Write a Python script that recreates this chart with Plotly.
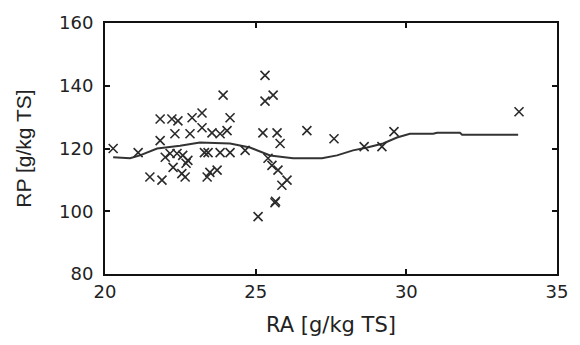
import plotly.graph_objects as go

ra_pts = [20.27, 21.10, 21.49, 21.89, 21.83, 21.83, 22.22, 22.16, 22.42, 22.89,
          23.22, 22.32, 22.82, 23.22, 23.55, 23.82, 24.05, 24.15, 23.42, 23.82,
          24.15, 22.39, 22.75, 22.66, 23.39, 23.72, 22.26, 23.92, 25.31, 25.31,
          25.58, 25.24, 25.71, 25.81, 24.65, 25.41, 25.74, 26.04, 25.87, 25.64,
          25.08, 26.70, 27.60, 28.60, 29.19, 29.59, 33.74, 22.69, 23.48, 25.54,
          22.00, 22.58, 23.30, 25.66, 22.55]
rp_pts = [120.0, 118.7, 110.9, 109.9, 129.4, 122.5, 129.4, 118.4, 128.8, 129.8,
          131.3, 124.7, 124.7, 126.6, 125.0, 124.7, 125.7, 129.8, 118.7, 118.7,
          118.7, 118.4, 116.2, 110.9, 110.9, 113.1, 114.0, 137.0, 143.3, 135.1,
          137.0, 125.0, 125.0, 121.6, 119.4, 116.9, 113.1, 109.9, 108.3, 102.7,
          98.3, 125.7, 123.1, 120.6, 120.6, 125.4, 131.7, 115.3, 112.4, 114.6,
          117.2, 117.8, 118.7, 103.2, 112.0]

ra_fit = [20.27, 20.83, 21.16, 21.73, 22.49, 23.15, 24.15, 24.81, 25.48, 26.24,
          27.20, 27.70, 28.23, 28.70, 29.23, 29.69, 30.12, 30.89, 31.02, 31.78,
          31.85, 33.71]
rp_fit = [117.2, 116.9, 117.8, 120.0, 120.9, 121.9, 121.6, 120.3, 117.8, 116.9,
          116.9, 117.8, 119.4, 120.3, 121.6, 123.5, 124.7, 124.7, 125.0, 125.0,
          124.4, 124.4]

x_ticks = [20, 25, 30, 35]
y_ticks = [80, 100, 120, 140, 160]

fig = go.Figure()
fig.add_trace(go.Scatter(x=ra_fit, y=rp_fit, mode="lines",
                         line=dict(color="#333333", width=2), showlegend=False))
fig.add_trace(go.Scatter(x=ra_pts, y=rp_pts, mode="markers",
                         marker=dict(symbol="x-thin", size=9,
                                     line=dict(color="#2a2a2a", width=1.6)),
                         showlegend=False))

tick_font = dict(family="DejaVu Sans", size=18, color="#222222")
axis_common = dict(showgrid=False, zeroline=False, showline=True, linecolor="#111111",
                   linewidth=2, mirror="ticks", ticks="inside", ticklen=5,
                   tickcolor="#111111", tickwidth=1.5, tickfont=tick_font)

fig.update_layout(
    width=580, height=345,
    margin=dict(l=105, r=23, t=21, b=70),
    plot_bgcolor="white", paper_bgcolor="white",
    xaxis=dict(range=[20, 35], tickvals=x_ticks, ticktext=[str(v) for v in x_ticks],
               title=dict(text="RA [g/kg TS]", standoff=17,
                          font=dict(family="DejaVu Sans", size=21, color="#222222")),
               **axis_common),
    yaxis=dict(range=[80, 160], tickvals=y_ticks, ticktext=[str(v) for v in y_ticks],
               ticklabelstandoff=6,
               title=dict(text="RP [g/kg TS]", standoff=22,
                          font=dict(family="Liberation Sans, Arial", size=21, color="#222222")),
               **axis_common),
)

fig.write_html("out.html")
